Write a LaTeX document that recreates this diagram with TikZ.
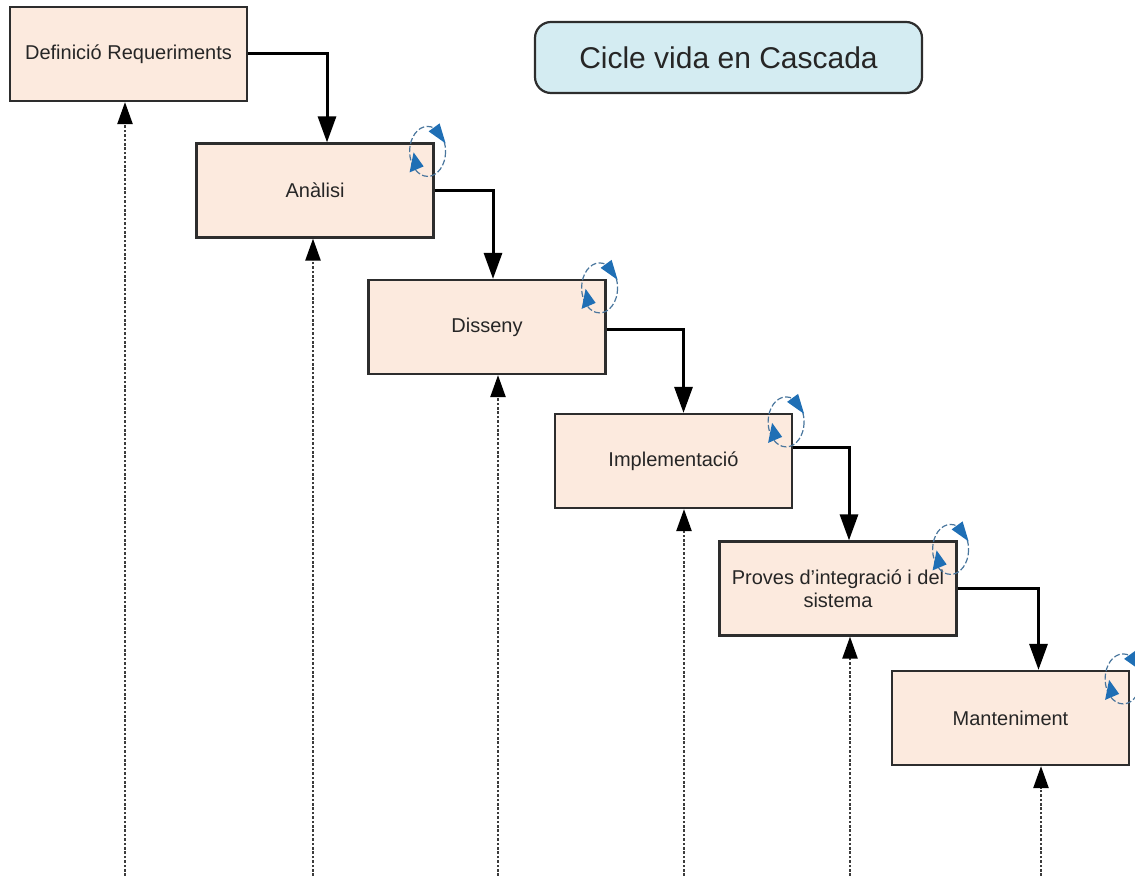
\documentclass[tikz,border=0pt]{standalone}
\usepackage{fontspec}
\setmainfont{Liberation Sans}
\usetikzlibrary{arrows.meta}
\definecolor{boxfill}{RGB}{252,234,222}
\definecolor{boxline}{RGB}{45,45,45}
\definecolor{titlefill}{RGB}{212,236,242}
\definecolor{iconblue}{RGB}{31,111,181}
\definecolor{dotgray}{RGB}{60,60,60}
\tikzset{
  stagebox/.style={draw=boxline, line width=1.1pt, fill=boxfill, minimum width=118.5pt, minimum height=47pt, inner sep=2pt, align=center, font=\fontsize{10}{11.5}\selectfont, text=black!85},
  titlebox/.style={draw=boxline, line width=1.1pt, fill=titlefill, rounded corners=8pt, minimum width=193.5pt, minimum height=35.5pt, font=\fontsize{15}{18}\selectfont, text=black!85},
  flowconn/.style={draw=black, line width=1.5pt, -{Triangle[width=9pt,length=13pt]}},
  backconn/.style={draw=dotgray, line width=1.2pt, dash pattern=on 1.3pt off 0.9pt, -{Triangle[width=7.5pt,length=11pt,color=black]}},
  cycleicon/.pic={
    \draw[iconblue!55!gray, line width=0.6pt, dash pattern=on 3pt off 1.2pt] (0,0) ellipse [x radius=18, y radius=25];
    \fill[iconblue] (1,-20) -- (12,-28) -- (18,-8) -- cycle;
    \fill[iconblue] (-14,1) -- (-18,21) -- (-4,15) -- cycle;
  }
}
\begin{document}
\begin{tikzpicture}[x=0.5pt, y=-0.5pt]
\useasboundingbox (0,0) rectangle (1135,876);

\node[titlebox] (title) at (728.5,57.5) {Cicle vida en Cascada};

\node[stagebox] (b1) at (128.5,54) {Definició Requeriments};
\node[stagebox] (b2) at (315,190.5) {Anàlisi};
\node[stagebox] (b3) at (487,327) {Disseny};
\node[stagebox] (b4) at (673.5,461) {Implementació};
\node[stagebox] (b5) at (838,588.5) {Proves d’integració i del\\sistema};
\node[stagebox] (b6) at (1010.5,718) {Manteniment};

\foreach \b in {b2,b3,b4,b5,b6}{
  \pic at ([xshift=-3.5pt,yshift=-4.5pt]\b.north east) {cycleicon};
}

\draw[flowconn] (b1.east) -| ([xshift=6pt]b2.north);
\draw[flowconn] (b2.east) -| ([xshift=3pt]b3.north);
\draw[flowconn] ([yshift=-1.5pt]b3.east) -| ([xshift=5pt]b4.north);
\draw[flowconn] ([yshift=6.5pt]b4.east) -| ([xshift=5.5pt]b5.north);
\draw[flowconn] (b5.east) -| ([xshift=14pt]b6.north);

\coordinate (d1) at (125,876);
\coordinate (d2) at (313,876);
\coordinate (d3) at (498,876);
\coordinate (d4) at (684,876);
\coordinate (d5) at (850,876);
\coordinate (d6) at (1041,876);
\draw[backconn] (d1) -- (d1 |- b1.south);
\draw[backconn] (d2) -- (d2 |- b2.south);
\draw[backconn] (d3) -- (d3 |- b3.south);
\draw[backconn] (d4) -- (d4 |- b4.south);
\draw[backconn] (d5) -- (d5 |- b5.south);
\draw[backconn] (d6) -- (d6 |- b6.south);
\end{tikzpicture}
\end{document}
